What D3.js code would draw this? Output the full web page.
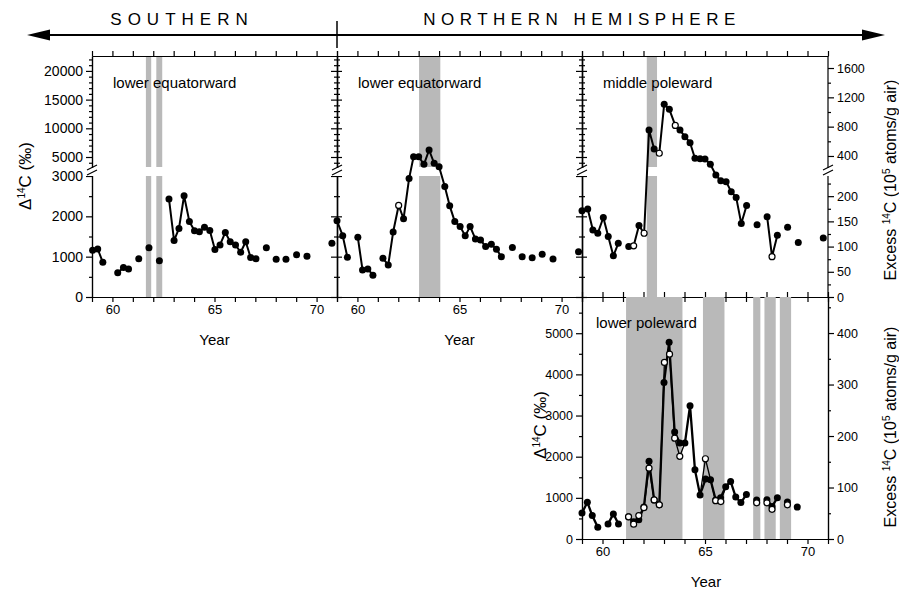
<!DOCTYPE html>
<html>
<head>
<meta charset="utf-8">
<script src="https://cdn.jsdelivr.net/npm/d3@7"></script>
<style>
  body { margin: 0; background: #fff; }
  text { font-family: "Liberation Sans", Arial, Helvetica, sans-serif; fill: #000; }
</style>
</head>
<body>
<div id="chart"></div>
<script>
// ---- tick values ----
var yearTicks = [59, 60, 61, 62, 63, 64, 65, 66, 67, 68, 69, 70, 71];
var yearLabels = [60, 65, 70];
var deltaLowMajor = [0, 1000, 2000, 3000];
var deltaLowMinor = [500, 1500, 2500];
var deltaHighMajor = [5000, 10000, 15000, 20000];
var deltaHighMinor = [4000, 6000, 7000, 8000, 9000, 11000, 12000, 13000, 14000, 16000, 17000, 18000, 19000, 21000, 22000];
var excessLowMajor = [0, 50, 100, 150, 200];
var excessLowMinor = [25, 75, 125, 175, 225];
var excessHighMajor = [400, 800, 1200, 1600];
var excessHighMinor = [600, 1000, 1400];
var botDeltaMajor = [0, 1000, 2000, 3000, 4000, 5000];
var botDeltaMinor = [500, 1500, 2500, 3500, 4500, 5500];
var botExcessMajor = [0, 100, 200, 300, 400];
var botExcessMinor = [50, 150, 250, 350, 450];

// ---- data: [year, delta14C, flag]; flag 1 = open circle ----
var southEq = [
  [[59.03, 1160], [59.28, 1190], [59.53, 860]],
  [[60.26, 600], [60.54, 730], [60.79, 695]],
  [[61.29, 950]],
  [[61.79, 1220]],
  [[62.3, 900]],
  [[62.77, 2430], [63.02, 1400], [63.26, 1700], [63.51, 2510], [63.77, 1870], [64.02, 1640],
   [64.26, 1620], [64.51, 1730], [64.77, 1650], [65.02, 1180], [65.27, 1290], [65.53, 1600],
   [65.77, 1370], [66.03, 1290], [66.28, 1110], [66.53, 1370], [66.77, 980], [67.03, 950]],
  [[67.54, 1220]], [[68.02, 935]], [[68.5, 935]], [[69.02, 1050]], [[69.53, 1010]], [[70.75, 1330]]
];

var northEq = [
  [[59.0, 1890], [59.28, 1520], [59.51, 985]],
  [[60.02, 1480], [60.25, 670], [60.51, 695], [60.76, 540]],
  [[61.25, 960], [61.51, 795], [61.75, 1610], [62.02, 2270, 1], [62.26, 1940], [62.53, 2935],
   [62.75, 5050], [63.0, 5050], [63.26, 3730], [63.51, 6220], [63.76, 3900], [64.0, 3310],
   [64.28, 2740], [64.52, 2260], [64.77, 1870], [65.03, 1745], [65.28, 1520], [65.52, 1745],
   [65.78, 1440], [66.03, 1415], [66.28, 1250], [66.56, 1305], [66.81, 1185], [67.05, 1000]],
  [[67.59, 1230]], [[68.07, 1000]], [[68.56, 975]], [[69.05, 1060]], [[69.58, 945]], [[70.83, 1120]]
];

var midPole = [
  [[59.0, 2140], [59.28, 2180], [59.53, 1660], [59.77, 1580], [60.04, 1970], [60.28, 1500],
   [60.53, 1020], [60.77, 1330]],
  [[61.28, 1250], [61.52, 1270, 1], [61.78, 1770], [62.03, 1580, 1], [62.27, 9700], [62.52, 6400],
   [62.77, 5650, 1], [63.01, 14200], [63.26, 13300], [63.55, 10500, 1], [63.78, 9700], [64.02, 8540],
   [64.27, 7490], [64.51, 4770], [64.76, 4700], [65.0, 4650], [65.26, 3730], [65.53, 3010],
   [65.77, 2880], [66.03, 2860], [66.28, 2610], [66.52, 2470], [66.77, 1820], [67.03, 2270]],
  [[67.54, 1790]],
  [[68.03, 1990], [68.27, 1000, 1], [68.53, 1530]],
  [[69.03, 1730]], [[69.55, 1350]], [[70.77, 1460]]
];

var lowPole = [
  [[59.0, 630], [59.26, 895], [59.5, 570], [59.77, 285]],
  [[60.27, 366], [60.53, 610], [60.78, 366]],
  [[61.27, 540], [61.52, 420], [61.77, 470], [62.02, 780], [62.27, 1890], [62.52, 950], [62.77, 830],
   [63.0, 3800], [63.25, 4780], [63.52, 2600], [63.77, 2330], [64.02, 2330], [64.27, 3240],
   [64.51, 1680], [64.76, 1070], [65.03, 1460], [65.27, 1440], [65.52, 950], [65.76, 1000],
   [66.01, 1270], [66.25, 1400], [66.5, 1020], [66.75, 886], [67.02, 1080]],
  [[67.52, 950]],
  [[68.02, 955], [68.27, 790], [68.53, 1000]],
  [[69.02, 900]],
  [[69.5, 775]]
];

// open-circle series of the lower poleward panel (flag 0 = line only)
var lowPoleOpen = [
  [[61.27, 540, 1], [61.52, 360, 1], [61.77, 570, 1], [62.02, 760, 1], [62.27, 1720, 1], [62.52, 950, 1],
   [62.77, 830, 1], [63.02, 4290, 1], [63.27, 4490, 1], [63.52, 2450, 1], [63.77, 2010, 1], [64.02, 2330, 0]],
  [[64.76, 1070, 0], [65.02, 1950, 1], [65.27, 1440, 0], [65.52, 930, 1], [65.77, 910, 1], [66.01, 1270, 0]],
  [[67.52, 880, 1]],
  [[68.02, 880, 1], [68.27, 720, 1]],
  [[69.02, 830, 1]]
];

// shaded periods [start, end] in years
var bandsSouthEq = [[61.64, 61.9], [62.15, 62.44]];
var bandsNorthEq = [[63.02, 64.06]];
var bandsMidPole = [[62.16, 62.66]];
var bandsLowPole = [[61.15, 63.9], [64.9, 65.95], [67.35, 67.7], [67.9, 68.45], [68.65, 69.2]];

// ---- layout ----
var W = 899, H = 591;
var topY0 = 56, topY1 = 297, botY1 = 539;
var breakTop = 168, breakBot = 176;
var bandFill = '#b9b9b9';
var fmt = d3.format('d');

var svg = d3.select('#chart').append('svg')
  .attr('width', W)
  .attr('height', H);

// broken delta scale shared by the three top panels
var yTop = d3.scaleLinear()
  .domain([0, 3000, 3084, 22600])
  .range([topY1, breakBot, breakTop, topY0]);
var exLow = d3.scaleLinear().domain([0, 240]).range([topY1, breakBot]);
var exHigh = d3.scaleLinear().domain([236, 1764]).range([breakTop, topY0]);

var yBot = d3.scaleLinear().domain([0, 5880]).range([botY1, topY1]);
var exBot = d3.scaleLinear().domain([0, 470]).range([botY1, topY1]);

var panels = [
  { x0: 92, x1: 337, data: southEq, bands: bandsSouthEq, label: 'lower equatorward' },
  { x0: 337, x1: 582, data: northEq, bands: bandsNorthEq, label: 'lower equatorward' },
  { x0: 582, x1: 828, data: midPole, bands: bandsMidPole, label: 'middle poleward' }
];

function styleAxis(g, size) {
  g.attr('font-family', null).attr('font-size', null);
  g.selectAll('text').style('font-size', size + 'px');
  g.selectAll('path,line').attr('stroke', '#000').attr('stroke-width', 1.2);
  return g;
}

function drawSeries(g, x, y, segs, lw, markerMode) {
  segs.forEach(function(seg) {
    if (seg.length > 1) {
      g.append('path').datum(seg)
        .attr('d', d3.line().x(function(d) { return x(d[0]); }).y(function(d) { return y(d[1]); }))
        .attr('fill', 'none')
        .attr('stroke', '#000')
        .attr('stroke-width', lw)
        .attr('stroke-linejoin', 'round');
    }
  });
  var pts = [].concat.apply([], segs);
  if (markerMode === 'filled') {
    g.selectAll(null).data(pts.filter(function(d) { return d[2] !== 1; })).enter()
      .append('circle')
      .attr('cx', function(d) { return x(d[0]); })
      .attr('cy', function(d) { return y(d[1]); })
      .attr('r', 3.5)
      .attr('fill', '#000');
  }
  g.selectAll(null).data(pts.filter(function(d) { return d[2] === 1; })).enter()
    .append('circle')
    .attr('cx', function(d) { return x(d[0]); })
    .attr('cy', function(d) { return y(d[1]); })
    .attr('r', 3)
    .attr('fill', '#fff')
    .attr('stroke', '#000')
    .attr('stroke-width', 1.2);
}

function breakMark(xp) {
  svg.append('rect')
    .attr('x', xp - 6).attr('y', breakTop).attr('width', 12).attr('height', breakBot - breakTop)
    .attr('fill', '#fff');
  [0, 5].forEach(function(o) {
    svg.append('line')
      .attr('x1', xp - 5).attr('y1', breakTop + 2 + o)
      .attr('x2', xp + 5).attr('y2', breakTop - 3 + o)
      .attr('stroke', '#000').attr('stroke-width', 1.2);
  });
}

// ---- top panels ----
panels.forEach(function(p, i) {
  var x = d3.scaleLinear().domain([59, 71]).range([p.x0, p.x1]);
  var g = svg.append('g');

  p.bands.forEach(function(b) {
    g.append('rect').attr('x', x(b[0])).attr('width', x(b[1]) - x(b[0]))
      .attr('y', topY0).attr('height', breakTop - 1 - topY0).attr('fill', bandFill);
    g.append('rect').attr('x', x(b[0])).attr('width', x(b[1]) - x(b[0]))
      .attr('y', breakBot).attr('height', topY1 - breakBot).attr('fill', bandFill);
  });

  g.append('text').attr('x', p.x0 + 21).attr('y', 88)
    .style('font-size', '15px').text(p.label);

  // top axis
  styleAxis(svg.append('g').attr('transform', 'translate(0,' + topY0 + ')')
    .call(d3.axisTop(x).tickValues(yearTicks).tickSize(5).tickSizeOuter(0).tickFormat('')), 13);
  // bottom axis
  styleAxis(svg.append('g').attr('transform', 'translate(0,' + topY1 + ')')
    .call(d3.axisBottom(x).tickValues(yearTicks).tickSize(5).tickSizeOuter(0)
      .tickFormat(function(d) { return (i < 2 && yearLabels.indexOf(d) >= 0) ? d : ''; })), 13);
  if (i === 2) {
    styleAxis(svg.append('g').attr('transform', 'translate(0,' + topY1 + ')')
      .call(d3.axisTop(x).tickValues(yearTicks).tickSize(5).tickSizeOuter(0).tickFormat('')), 13);
  }
  if (i < 2) {
    svg.append('text').attr('x', (p.x0 + p.x1) / 2).attr('y', 345)
      .attr('text-anchor', 'middle').style('font-size', '15px').text('Year');
  }

  // left axis (delta); labels only on the outer one
  var yl = d3.axisLeft(yTop).tickValues(deltaLowMajor.concat(deltaHighMajor)).tickSize(6).tickSizeOuter(0)
    .tickFormat(i === 0 ? fmt : '');
  styleAxis(svg.append('g').attr('transform', 'translate(' + p.x0 + ',0)').call(yl), 14);
  styleAxis(svg.append('g').attr('transform', 'translate(' + p.x0 + ',0)')
    .call(d3.axisLeft(yTop).tickValues(deltaLowMinor.concat(deltaHighMinor)).tickSize(3).tickSizeOuter(0).tickFormat('')), 14);
  if (i > 0) {
    styleAxis(svg.append('g').attr('transform', 'translate(' + p.x0 + ',0)')
      .call(d3.axisRight(yTop).tickValues(deltaLowMajor.concat(deltaHighMajor)).tickSize(5).tickSizeOuter(0).tickFormat('')), 14);
    styleAxis(svg.append('g').attr('transform', 'translate(' + p.x0 + ',0)')
      .call(d3.axisRight(yTop).tickValues(deltaLowMinor.concat(deltaHighMinor)).tickSize(3).tickSizeOuter(0).tickFormat('')), 14);
  }
  breakMark(p.x0);

  drawSeries(g, x, yTop, p.data, 2, 'filled');
});

// right axis of the middle poleward panel (excess 14C)
var xr = 828;
svg.append('line').attr('x1', xr).attr('x2', xr).attr('y1', topY0).attr('y2', topY1)
  .attr('stroke', '#000').attr('stroke-width', 1.2);
styleAxis(svg.append('g').attr('transform', 'translate(' + xr + ',0)')
  .call(d3.axisRight(exLow).tickValues(excessLowMajor).tickSize(6).tickSizeOuter(0).tickFormat(fmt)), 12.5)
  .select('.domain').remove();
styleAxis(svg.append('g').attr('transform', 'translate(' + xr + ',0)')
  .call(d3.axisRight(exLow).tickValues(excessLowMinor).tickSize(3).tickSizeOuter(0).tickFormat('')), 12.5)
  .select('.domain').remove();
styleAxis(svg.append('g').attr('transform', 'translate(' + xr + ',0)')
  .call(d3.axisRight(exHigh).tickValues(excessHighMajor).tickSize(6).tickSizeOuter(0).tickFormat(fmt)), 12.5)
  .select('.domain').remove();
styleAxis(svg.append('g').attr('transform', 'translate(' + xr + ',0)')
  .call(d3.axisRight(exHigh).tickValues(excessHighMinor).tickSize(3).tickSizeOuter(0).tickFormat('')), 12.5)
  .select('.domain').remove();
breakMark(xr);

// ---- bottom panel (lower poleward) ----
var xb = d3.scaleLinear().domain([59, 71]).range([582, 828]);
var gb = svg.append('g');
bandsLowPole.forEach(function(b) {
  gb.append('rect').attr('x', xb(b[0])).attr('width', xb(b[1]) - xb(b[0]))
    .attr('y', topY1).attr('height', botY1 - topY1).attr('fill', bandFill);
});
gb.append('text').attr('x', 596).attr('y', 328).style('font-size', '15px').text('lower poleward');

styleAxis(svg.append('g').attr('transform', 'translate(0,' + botY1 + ')')
  .call(d3.axisBottom(xb).tickValues(yearTicks).tickSize(5).tickSizeOuter(0)
    .tickFormat(function(d) { return yearLabels.indexOf(d) >= 0 ? d : ''; })), 13);
svg.append('text').attr('x', 706).attr('y', 587).attr('text-anchor', 'middle')
  .style('font-size', '15px').text('Year');

styleAxis(svg.append('g').attr('transform', 'translate(582,0)')
  .call(d3.axisLeft(yBot).tickValues(botDeltaMajor).tickSize(6).tickSizeOuter(0).tickFormat(fmt)), 12.5);
styleAxis(svg.append('g').attr('transform', 'translate(582,0)')
  .call(d3.axisLeft(yBot).tickValues(botDeltaMinor).tickSize(3).tickSizeOuter(0).tickFormat('')), 12.5);
styleAxis(svg.append('g').attr('transform', 'translate(828,0)')
  .call(d3.axisRight(exBot).tickValues(botExcessMajor).tickSize(6).tickSizeOuter(0).tickFormat(fmt)), 12.5);
styleAxis(svg.append('g').attr('transform', 'translate(828,0)')
  .call(d3.axisRight(exBot).tickValues(botExcessMinor).tickSize(3).tickSizeOuter(0).tickFormat('')), 12.5);

drawSeries(gb, xb, yBot, lowPole, 2.3, 'filled');
drawSeries(gb, xb, yBot, lowPoleOpen, 1.3, 'open');

// ---- axis titles ----
function deltaTitle(xp, yp) {
  var t = svg.append('text').attr('transform', 'translate(' + xp + ',' + yp + ') rotate(-90)')
    .attr('text-anchor', 'middle').style('font-size', '17px');
  t.append('tspan').text('\u0394');
  t.append('tspan').attr('dy', -6).style('font-size', '10px').text('14');
  t.append('tspan').attr('dy', 6).text('C (\u2030)');
}
function excessTitle(xp, yp) {
  var t = svg.append('text').attr('transform', 'translate(' + xp + ',' + yp + ') rotate(-90)')
    .attr('text-anchor', 'middle').style('font-size', '16px');
  t.append('tspan').text('Excess ');
  t.append('tspan').attr('dy', -6).style('font-size', '10px').text('14');
  t.append('tspan').attr('dy', 6).text('C (10');
  t.append('tspan').attr('dy', -6).style('font-size', '10px').text('5');
  t.append('tspan').attr('dy', 6).text(' atoms/g air)');
}
deltaTitle(31, 176);
deltaTitle(546, 425);
excessTitle(896, 180);
excessTitle(896, 427);

// ---- hemisphere header ----
svg.append('text').attr('x', 182).attr('y', 25).attr('text-anchor', 'middle')
  .style('font-size', '17px').style('letter-spacing', '6px').text('SOUTHERN');
svg.append('text').attr('x', 582).attr('y', 25).attr('text-anchor', 'middle')
  .style('font-size', '17px').style('letter-spacing', '5.5px').text('NORTHERN HEMISPHERE');
svg.append('line').attr('x1', 40).attr('x2', 870).attr('y1', 35).attr('y2', 35)
  .attr('stroke', '#000').attr('stroke-width', 2);
svg.append('path').attr('d', 'M27,35 L50,29.5 L50,40.5 Z').attr('fill', '#000');
svg.append('path').attr('d', 'M885,35 L862,29.5 L862,40.5 Z').attr('fill', '#000');
svg.append('line').attr('x1', 337).attr('x2', 337).attr('y1', 21).attr('y2', 48)
  .attr('stroke', '#000').attr('stroke-width', 1.5);
</script>
</body>
</html>
